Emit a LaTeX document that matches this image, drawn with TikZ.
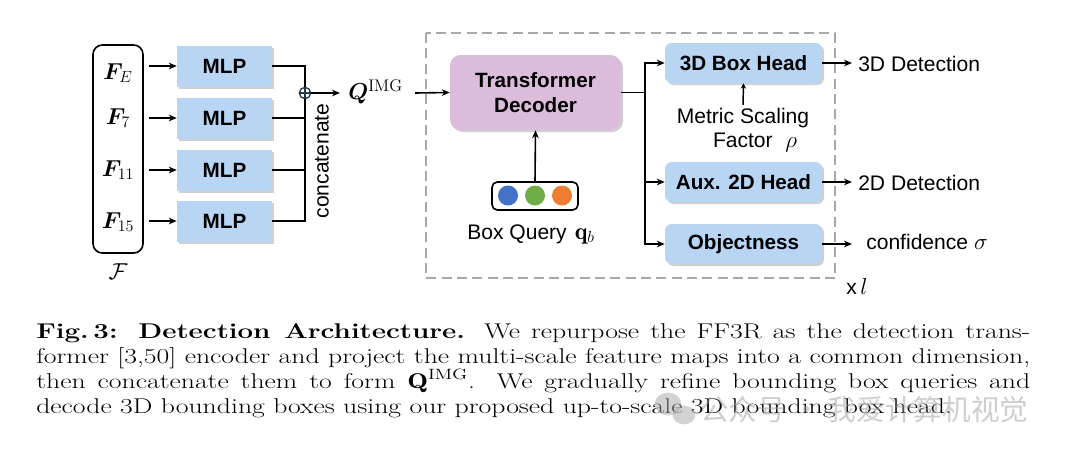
\documentclass[tikz,border=0pt]{standalone}
\usepackage{fontspec}
\usepackage{amsmath,bm}
\usetikzlibrary{shadows,arrows.meta}
\newfontfamily\arial{Liberation Sans}
\newfontfamily\cjk{Noto Sans CJK SC}
\definecolor{boxblue}{HTML}{B8D6F4}
\definecolor{decpink}{HTML}{DBBCDB}
\definecolor{plusc}{HTML}{22394A}
\definecolor{dotblue}{HTML}{4472C4}
\definecolor{dotgreen}{HTML}{70AD47}
\definecolor{dotorange}{HTML}{ED7D31}
\definecolor{dashgray}{HTML}{A8A8A8}
\newcommand{\capline}[1]{\scalebox{1.3}[1]{\makebox[573.5pt][s]{#1}}}
\begin{document}
\begin{tikzpicture}[x=0.75pt,y=-0.75pt,
  arr/.style={-{Stealth[length=6pt,width=5pt]}, line width=1.2pt},
  conn/.style={line width=1.2pt},
  shad/.style={drop shadow={shadow xshift=1.5pt, shadow yshift=-1.5pt, fill=black!30, opacity=0.6}},
  mlpbox/.style={shad, fill=boxblue, minimum width=71.25pt, minimum height=30.75pt, inner sep=0pt, font=\arial\bfseries\fontsize{15.5}{18}\selectfont},
  headbox/.style={shad, fill=boxblue, rounded corners=5pt, minimum width=117.75pt, minimum height=30pt, inner sep=0pt, font=\arial\bfseries\fontsize{15.5}{18}\selectfont},
  sans/.style={inner sep=0pt, font=\arial\fontsize{15.8}{18}\selectfont},
  flab/.style={inner sep=0pt, font=\fontsize{18}{20}\selectfont},
  capt/.style={inner sep=0pt, font=\fontsize{16}{19}\selectfont},
  dot/.style={circle, minimum size=15pt, inner sep=0pt}
]
\useasboundingbox (0,0) rectangle (1080,454);
\fill[white] (0,0) rectangle (1080,454);

% F stack
\node[draw, line width=1.2pt, rounded corners=7pt, minimum width=37.5pt, minimum height=156pt, inner sep=0pt] (fbox) at (118,149) {};
\node[flab] (fe) at (118,73) {$\bm{F}_{E}$};
\node[flab] (f7) at (118,118) {$\bm{F}_{7}$};
\node[flab] (f11) at (118,170) {$\bm{F}_{11}$};
\node[flab] (f15) at (118,222) {$\bm{F}_{15}$};
\node[inner sep=0pt, font=\fontsize{19}{21}\selectfont] (fcal) at (118,272) {$\mathcal{F}$};

% MLPs
\node[mlpbox] (m1) at (224.5,66) {MLP};
\node[mlpbox] (m2) at (224.5,118) {MLP};
\node[mlpbox] (m3) at (224.5,170) {MLP};
\node[mlpbox] (m4) at (224.5,221) {MLP};
\foreach \b in {m1, m2, m3, m4}
  \draw[arr] (\b.west -| fbox.east) ++(5,0) -- (\b.west);

% concatenate
\node[circle, draw=plusc, line width=1pt, minimum size=8.5pt, inner sep=0pt,
  path picture={\draw[plusc, line width=1pt] (path picture bounding box.north) -- (path picture bounding box.south) (path picture bounding box.west) -- (path picture bounding box.east);}] (plus) at (305,93) {};
\draw[conn] (m1.east) -| (plus.north);
\draw[conn] (m4.east) -| (plus.south);
\draw[conn] (m2.east) -- (m2.east -| plus);
\draw[conn] (m3.east) -- (m3.east -| plus);
\node[sans, rotate=90] (concat) at (322,161) {concatenate};
\node[inner sep=0pt, anchor=west, font=\fontsize{18}{20}\selectfont] (qimg) at (348,92) {$\bm{Q}^{\mathrm{IMG}}$};
\coordinate (qtip) at (340,93);
\draw[arr] (plus.east) -- (qtip);

% dashed frame
\draw[dashgray, line width=1.6pt, dash pattern=on 7.5pt off 4pt] (426,33) rectangle (835,278);
\node[inner sep=0pt, anchor=west, font=\arial\fontsize{15.8}{18}\selectfont] (times) at (846,286) {x\,{\fontsize{17}{18}\selectfont$l$}};

% decoder
\node[shad, fill=decpink, rounded corners=8pt, minimum width=128.25pt, minimum height=56.25pt, inner sep=0pt, align=center, font=\arial\bfseries\fontsize{15.5}{19}\selectfont] (dec) at (535.5,92.5) {Transformer\\Decoder};
\coordinate (qstart) at (415,93);
\draw[arr] (qstart) -- (dec.west);

% box query
\node[draw, line width=1.2pt, rounded corners=4pt, minimum width=64.5pt, minimum height=21pt, inner sep=0pt] (bq) at (535,196) {};
\node[dot, fill=dotblue] (d1) at (508,195.5) {};
\node[dot, fill=dotgreen] (d2) at (535,195.5) {};
\node[dot, fill=dotorange] (d3) at (562,195.5) {};
\node[sans, anchor=west] (bql) at (467,234) {Box Query\hspace{6pt}{\fontsize{18}{18}\selectfont$\mathbf{q}_b$}};
\draw[arr] (bq.north) -- (dec.south);

% heads
\node[headbox] (h3d) at (743.5,63) {3D Box Head};
\node[headbox] (haux) at (743.5,182) {Aux. 2D Head};
\node[headbox] (hobj) at (743.5,244) {Objectness};
\coordinate (br) at (645,92.5);
\draw[conn] (dec.east) -- (br);
\draw[arr] (br) |- (h3d.west);
\draw[arr] (br) |- (haux.west);
\draw[arr] (br) |- (hobj.west);

\node[sans] (ms1) at (743,118) {Metric Scaling};
\node[sans] (ms2) at (755,142) {Factor\hspace{0.6em}{\fontsize{17}{17}\selectfont$\rho$}};
\draw[-{Stealth[length=4pt,width=4pt]}, line width=1.1pt] ([yshift=2.25pt]ms1.north) -- (h3d.south);

% outputs
\node[sans, anchor=west] (o1) at (858,64) {3D Detection};
\node[sans, anchor=west] (o2) at (858,183) {2D Detection};
\node[sans, anchor=west] (o3) at (866,242) {confidence {\fontsize{17}{17}\selectfont$\sigma$}};
\coordinate (t1) at (852,63);
\coordinate (t2) at (852,182);
\coordinate (t3) at (852,244);
\draw[arr] (h3d.east) -- (t1);
\draw[arr] (haux.east) -- (t2);
\draw[arr] (hobj.east) -- (t3);

% caption
\node[capt, anchor=base west] (cap1) at (36,338) {\capline{\textbf{Fig.\,3: Detection Architecture.} We repurpose the FF3R as the detection trans-}};
\node[capt, anchor=base west] (cap2) at (36,363) {\capline{former [3,50] encoder and project the multi-scale feature maps into a common dimension,}};
\node[capt, anchor=base west] (cap3) at (36,388) {\capline{then concatenate them to form $\mathbf{Q}^{\mathrm{IMG}}$. We gradually refine bounding box queries and}};
\node[capt, anchor=base west] (cap4) at (36,413) {\scalebox{1.3}[1]{decode 3D bounding boxes using our proposed up-to-scale 3D bounding box head.}};

% watermark
\begin{scope}[opacity=0.5]
\fill[gray!70] (668,404) ellipse (10pt and 8.5pt);
\fill[gray!70] (684,415) ellipse (8.5pt and 7pt);
\node[inner sep=0pt, anchor=west, text=gray!75, font=\cjk\fontsize{21.5}{23}\selectfont] (wm) at (700,410) {公众号 · 我爱计算机视觉};
\end{scope}
\end{tikzpicture}
\end{document}
